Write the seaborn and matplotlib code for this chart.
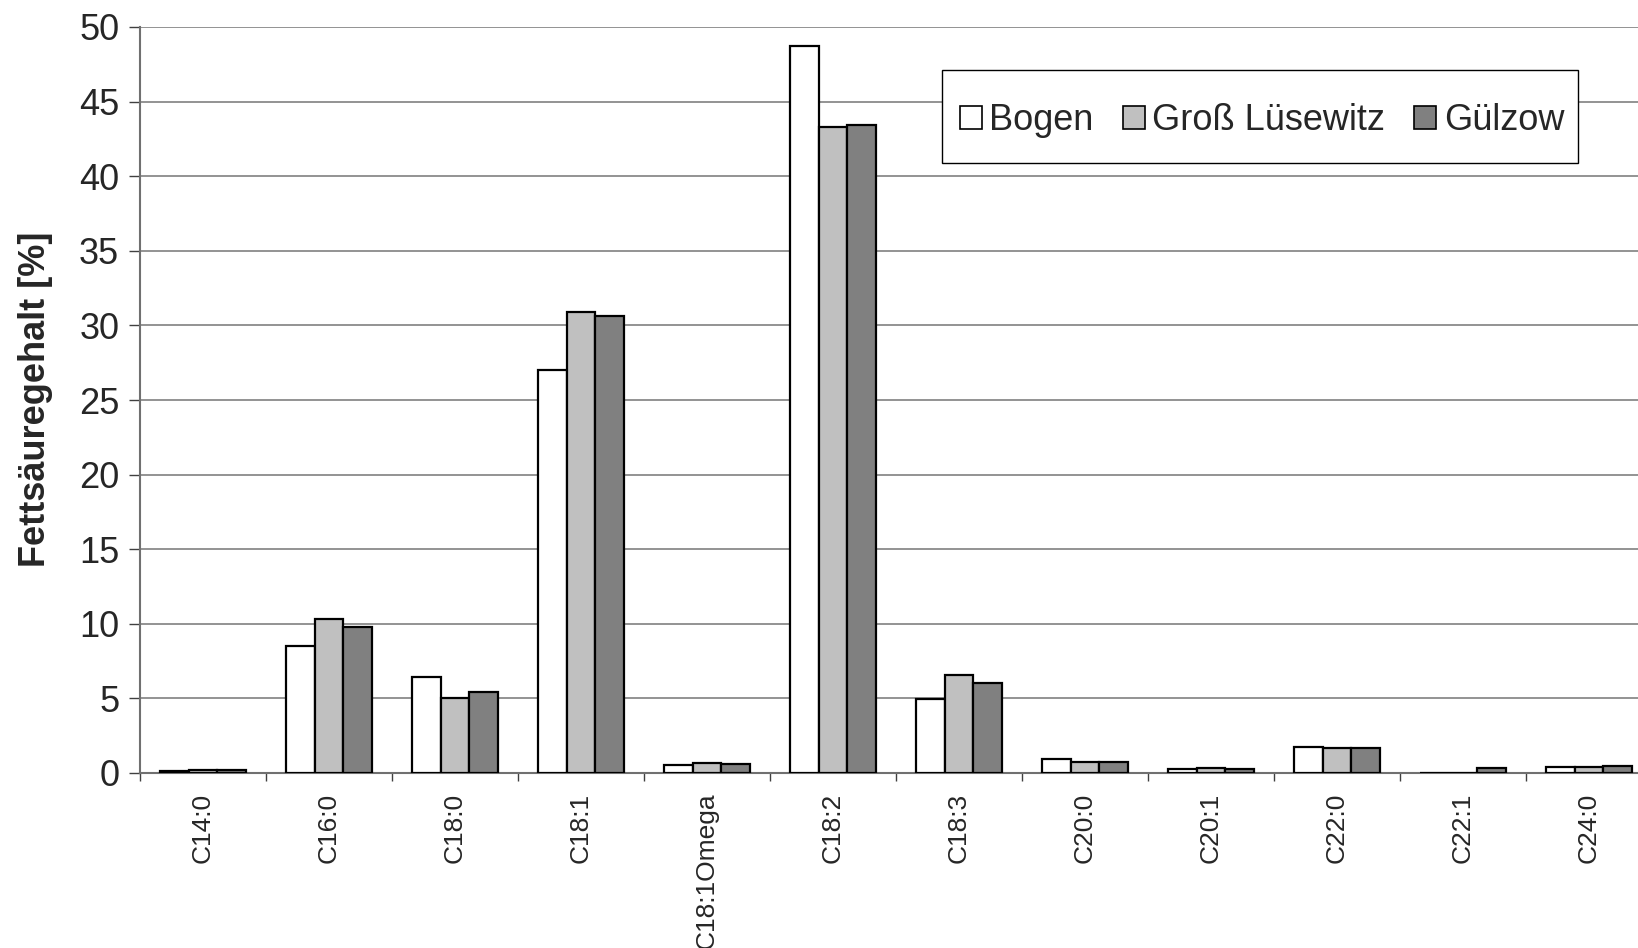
import numpy as np
import pandas as pd
import matplotlib
matplotlib.use("Agg")
import matplotlib.pyplot as plt
import seaborn as sns
from matplotlib.ticker import FixedLocator
from matplotlib.patches import Rectangle

categories = ["C14:0", "C16:0", "C18:0", "C18:1", "C18:1Omega", "C18:2",
              "C18:3", "C20:0", "C20:1", "C22:0", "C22:1", "C24:0"]
bogen = [0.13, 8.5, 6.45, 27.0, 0.56, 48.7, 4.95, 0.96, 0.29, 1.76, 0.0, 0.42]
gross_luesewitz = [0.22, 10.3, 5.05, 30.9, 0.65, 43.3, 6.6, 0.72, 0.36, 1.70, 0.0, 0.40]
guelzow = [0.22, 9.8, 5.45, 30.6, 0.58, 43.4, 6.0, 0.76, 0.30, 1.68, 0.34, 0.49]
series_names = ["Bogen", "Groß Lüsewitz", "Gülzow"]
colors = ["#FFFFFF", "#C0C0C0", "#808080"]
yticks = [0, 5, 10, 15, 20, 25, 30, 35, 40, 45, 50]

df = pd.DataFrame({
    "Fettsäure": categories * 3,
    "Wert": bogen + gross_luesewitz + guelzow,
    "Ort": sum([[n] * len(categories) for n in series_names], []),
})

sns.set_style("white")
plt.rcParams["font.family"] = ["Liberation Sans", "DejaVu Sans"]

W, H = 1638, 948
fig = plt.figure(figsize=(W / 100, H / 100), dpi=100)
ax = fig.add_axes([140 / W, (H - 773) / H, 1512 / W, (773 - 27) / H])

sns.barplot(data=df, x="Fettsäure", y="Wert", hue="Ort", order=categories,
            hue_order=series_names, palette=colors, width=0.68,
            edgecolor="black", linewidth=1.6, ax=ax, zorder=3)

ax.set_xlim(-0.5, len(categories) - 0.5)
ax.set_ylim(0, 50)
ax.set_yticks(yticks)
ax.set_yticklabels([str(v) for v in yticks], fontsize=26)
ax.yaxis.grid(True, color="#808080", linewidth=1.2, zorder=0)
ax.set_axisbelow(True)
ax.tick_params(axis="y", direction="out", length=8, width=1, color="#404040",
               pad=7, left=True)

ax.set_xticks(range(len(categories)))
ax.set_xticklabels(categories, rotation=90, fontsize=19, va="top")
ax.tick_params(axis="x", which="major", length=0, pad=14)
ax.xaxis.set_minor_locator(FixedLocator(np.arange(-0.5, len(categories), 1.0)))
ax.tick_params(axis="x", which="minor", direction="out", length=6, width=1,
               color="#404040", bottom=True)

for s in ["top", "right"]:
    ax.spines[s].set_visible(False)
ax.spines["left"].set_color("#707070")
ax.spines["left"].set_linewidth(1.5)
ax.spines["bottom"].set_color("#707070")
ax.spines["bottom"].set_linewidth(1.5)

ax.set_xlabel("")
ax.set_ylabel("Fettsäuregehalt [%]", fontsize=26, fontweight="bold")
ax.yaxis.set_label_coords(-0.0575, 0.501)

# legend box frame (in figure pixels: x 942-1578, y 70-163 from top)
ax.add_patch(Rectangle((942 / W, 1 - 163 / H), (1578 - 942) / W, (163 - 70) / H,
                       transform=fig.transFigure, facecolor="white",
                       edgecolor="black", linewidth=1.0, zorder=5, clip_on=False))
leg = ax.legend(loc="center", bbox_to_anchor=(1262 / W, 1 - 120.5 / H),
                bbox_transform=fig.transFigure, ncol=3, fontsize=26, frameon=False,
                handlelength=0.62, handleheight=0.62, handletextpad=0.2,
                columnspacing=0.8, borderpad=0.2, borderaxespad=0)
leg.set_zorder(6)
for h in leg.legend_handles:
    h.set_edgecolor("black")
    h.set_linewidth(1.2)

fig.savefig("out.png", dpi=100)
